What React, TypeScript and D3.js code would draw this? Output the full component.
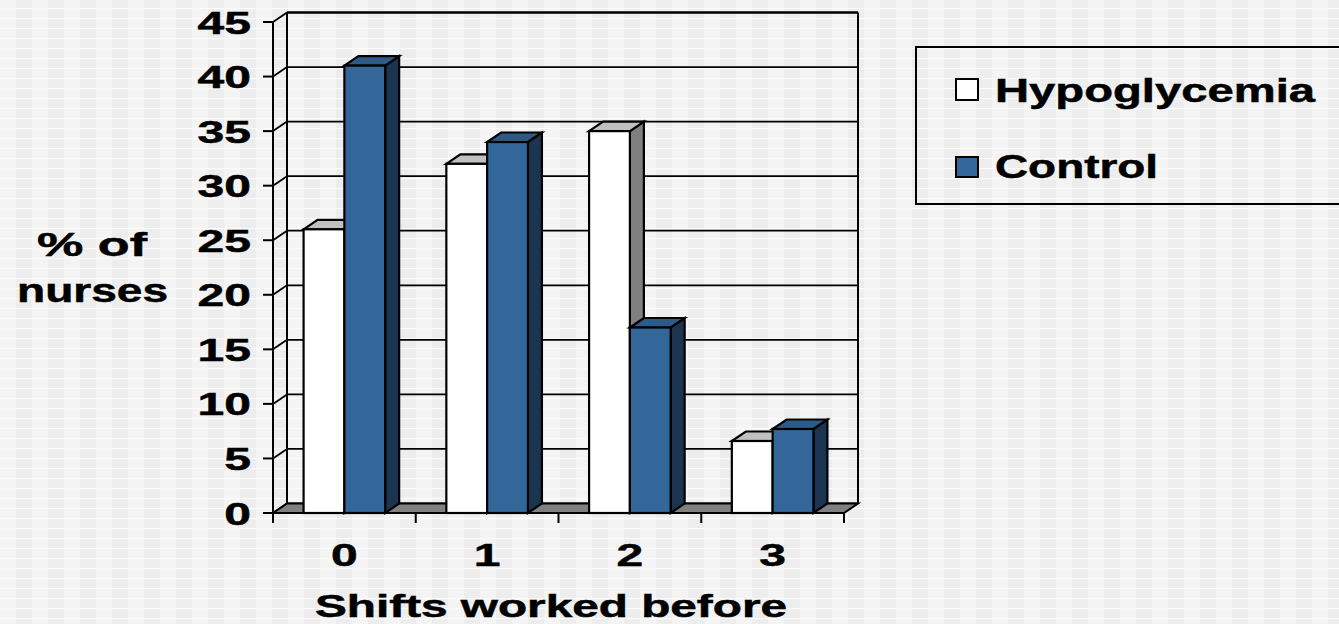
import React from 'react';
import * as d3 from 'd3';

// Share of nurses by number of shifts worked before the event
const categories = ['0', '1', '2', '3'];
const seriesNames = ['Hypoglycemia', 'Control'];
const hypoglycemia = [26, 32, 35, 6.6];
const control = [41, 34, 17, 7.7];
const yTicks = [0, 5, 10, 15, 20, 25, 30, 35, 40, 45];

const W = 1339;
const H = 624;
const DX = 14; // depth offset of the 3D walls and bars
const DY = -9.5;

const FONT = "'Liberation Sans', Arial, Helvetica, sans-serif";

const colors = {
  Hypoglycemia: { front: '#ffffff', top: '#c0c0c0', side: '#808080' },
  Control: { front: '#336699', top: '#2d5a87', side: '#1b3550' },
};

function Bar({ x0, x1, yTop, yBase, c }: { x0: number; x1: number; yTop: number; yBase: number; c: { front: string; top: string; side: string } }) {
  const top = [[x0, yTop], [x1, yTop], [x1 + DX, yTop + DY], [x0 + DX, yTop + DY]];
  const side = [[x1, yTop], [x1 + DX, yTop + DY], [x1 + DX, yBase + DY], [x1, yBase]];
  const pts = (p: number[][]) => p.map((q) => q.join(',')).join(' ');
  return (
    <g stroke="#000" strokeWidth={2.2} strokeLinejoin="miter">
      <polygon points={pts(side)} fill={c.side} />
      <polygon points={pts(top)} fill={c.top} />
      <rect x={x0} y={yTop} width={x1 - x0} height={yBase - yTop} fill={c.front} />
    </g>
  );
}

export default function App() {
  const x = d3.scaleBand<string>().domain(categories).range([273, 844]).paddingInner(0).paddingOuter(0);
  const inner = d3.scaleBand<string>().domain(seriesNames).range([0, x.bandwidth()]).paddingInner(0).paddingOuter(0.75);
  const y = d3.scaleLinear().domain([0, 45]).range([513, 22]);

  const x0 = x.range()[0];
  const x1 = x.range()[1];
  const yBase = y(0);
  const yMax = y(45);

  const values: Record<string, number[]> = { Hypoglycemia: hypoglycemia, Control: control };

  return (
    <svg
      width={W}
      height={H}
      style={{ position: 'absolute', left: 0, top: 0, display: 'block' }}
      xmlns="http://www.w3.org/2000/svg"
    >
      <defs>
        <pattern id="bgPattern" width={32} height={20} patternUnits="userSpaceOnUse">
          <rect width={32} height={20} fill="#ededed" />
          <rect x={0} width={16} height={20} fill="#f4f4f4" />
          <rect y={8} width={32} height={1.2} fill="#fbfbfb" />
          <rect y={18} width={32} height={1.2} fill="#fbfbfb" />
        </pattern>
      </defs>
      <rect width={W} height={H} fill="url(#bgPattern)" />

      {/* back wall gridlines and outline */}
      <g stroke="#000" strokeWidth={2} fill="none">
        {yTicks.map((t) => (
          <line key={'g' + t} x1={x0 + DX} x2={x1 + DX} y1={y(t) + DY} y2={y(t) + DY} strokeWidth={t === 45 ? 2.5 : 1.8} />
        ))}
        <line x1={x0 + DX} x2={x0 + DX} y1={yMax + DY} y2={yBase + DY} />
        <line x1={x1 + DX} x2={x1 + DX} y1={yMax + DY} y2={yBase + DY} />
        {/* side wall diagonals */}
        {yTicks.map((t) => (
          <line key={'d' + t} x1={x0} x2={x0 + DX} y1={y(t)} y2={y(t) + DY} strokeWidth={1.8} />
        ))}
      </g>

      {/* floor */}
      <polygon
        points={[[x0, yBase], [x1, yBase], [x1 + DX, yBase + DY], [x0 + DX, yBase + DY]].map((p) => p.join(',')).join(' ')}
        fill="#808080"
        stroke="#000"
        strokeWidth={2}
      />

      {/* bars */}
      {categories.map((cat, i) => (
        <g key={cat}>
          {seriesNames.map((s) => {
            const bx = (x(cat) as number) + (inner(s) as number);
            return (
              <Bar key={s} x0={bx} x1={bx + inner.bandwidth()} yTop={y(values[s][i])} yBase={yBase} c={colors[s as keyof typeof colors]} />
            );
          })}
        </g>
      ))}

      {/* axes */}
      <g stroke="#000" strokeWidth={2}>
        <line x1={x0} x2={x0} y1={yMax} y2={yBase + 10} />
        <line x1={x0} x2={x1} y1={yBase} y2={yBase} />
        {yTicks.map((t) => (
          <line key={'t' + t} x1={x0 - 10} x2={x0} y1={y(t)} y2={y(t)} />
        ))}
        {[...categories.map((c) => x(c) as number), x1].map((v, i) => (
          <line key={'xt' + i} x1={v} x2={v} y1={yBase} y2={yBase + 10} />
        ))}
      </g>

      {/* tick labels */}
      <g fontFamily={FONT} fontWeight="bold" fontSize={32} fill="#000" stroke="#000" strokeWidth={0.5}>
        {yTicks.map((t) => (
          <text key={'yl' + t} transform={`translate(251,${y(t) + 11.5}) scale(1.5,1)`} textAnchor="end">
            {t}
          </text>
        ))}
        {categories.map((c) => (
          <text key={'xl' + c} transform={`translate(${(x(c) as number) + x.bandwidth() / 2},566) scale(1.5,1)`} textAnchor="middle">
            {c}
          </text>
        ))}
      </g>

      {/* axis titles */}
      <g fontFamily={FONT} fontWeight="bold" fontSize={33} fill="#000" stroke="#000" strokeWidth={0.5}>
        <text x={37} y={256} textLength={110} lengthAdjust="spacingAndGlyphs">% of</text>
        <text x={17} y={302} textLength={151} lengthAdjust="spacingAndGlyphs">nurses</text>
        <text x={315} y={617} fontSize={31} textLength={472} lengthAdjust="spacingAndGlyphs">Shifts worked before</text>
      </g>

      {/* legend */}
      <g>
        <rect x={916} y={47} width={440} height={157} fill="none" stroke="#000" strokeWidth={2} />
        <rect x={956} y={79} width={22} height={21} fill={colors.Hypoglycemia.front} stroke="#000" strokeWidth={2} />
        <rect x={956} y={157} width={22} height={20} fill={colors.Control.front} stroke="#000" strokeWidth={2} />
        <g fontFamily={FONT} fontWeight="bold" fontSize={34} fill="#000" stroke="#000" strokeWidth={0.5}>
          <text x={995} y={102} textLength={320} lengthAdjust="spacingAndGlyphs">{seriesNames[0]}</text>
          <text x={995} y={178} textLength={163} lengthAdjust="spacingAndGlyphs">{seriesNames[1]}</text>
        </g>
      </g>
    </svg>
  );
}
